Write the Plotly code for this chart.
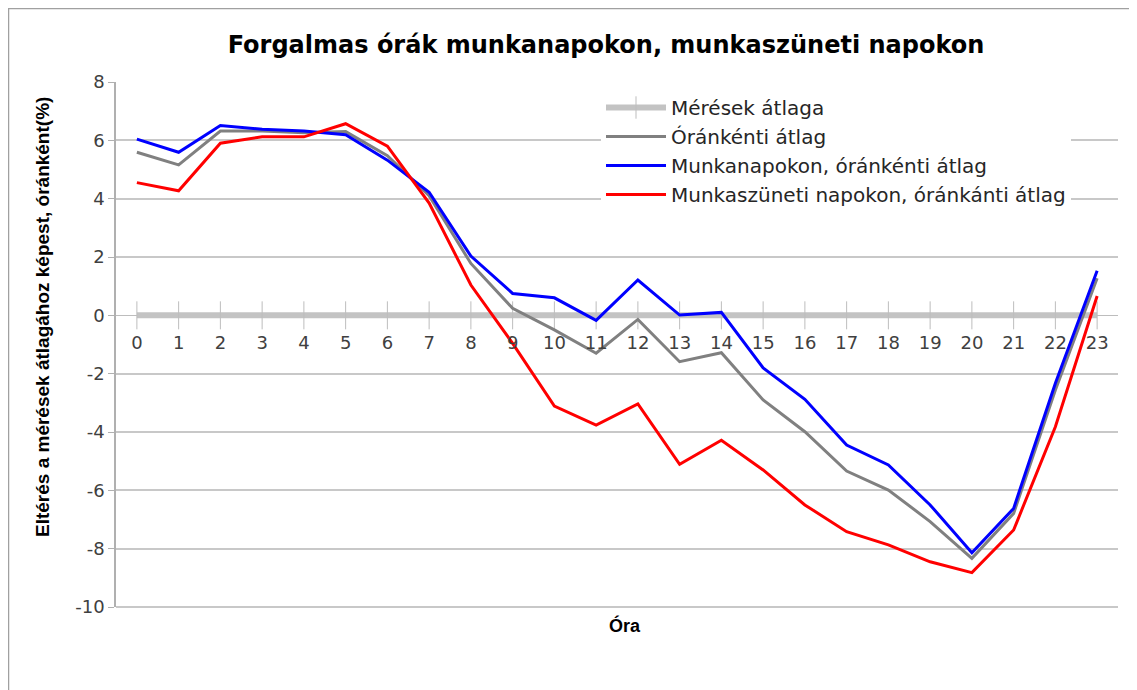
import plotly.graph_objects as go

hours = [str(h) for h in range(24)]
meresek_atlaga = [0] * 24
oranketi_atlag = [5.59, 5.16, 6.32, 6.32, 6.26, 6.30, 5.47, 4.10, 1.78, 0.24, -0.50, -1.30,
                  -0.14, -1.59, -1.28, -2.90, -3.99, -5.34, -5.99, -7.07, -8.33, -6.79, -2.56, 1.27]
munkanap = [6.04, 5.59, 6.51, 6.38, 6.32, 6.19, 5.32, 4.22, 2.03, 0.75, 0.60, -0.17,
            1.21, 0.01, 0.10, -1.80, -2.88, -4.45, -5.13, -6.50, -8.14, -6.62, -2.33, 1.53]
munkaszunet = [4.55, 4.27, 5.90, 6.12, 6.12, 6.57, 5.80, 3.85, 1.04, -0.96, -3.11, -3.76,
               -3.04, -5.11, -4.28, -5.30, -6.50, -7.42, -7.87, -8.45, -8.82, -7.36, -3.82, 0.66]
y_ticks = list(range(-10, 9, 2))
y_tick_labels = [str(v) for v in y_ticks]

OFF = 8  # page body margin
W, H = 1137 - OFF, 690 - OFF
L, R, T, B = 116 - OFF, 19, 82 - OFF, 83
pw, ph = W - L - R, H - T - B

def px_x(p):
    return (p - OFF - L) / pw

def px_y(p):
    return (H - B - (p - OFF)) / ph

fig = go.Figure()
fig.add_trace(go.Scatter(
    x=hours, y=meresek_atlaga, name="Mérések átlaga", mode="lines+markers",
    line=dict(color="#c3c3c3", width=6),
    marker=dict(symbol="line-ns", size=20, color="#c3c3c3", line=dict(color="#bdbdbd", width=1)),
))
fig.add_trace(go.Scatter(x=hours, y=oranketi_atlag, name="Óránkénti átlag", mode="lines",
                         line=dict(color="#808080", width=3)))
fig.add_trace(go.Scatter(x=hours, y=munkanap, name="Munkanapokon, óránkénti átlag", mode="lines",
                         line=dict(color="#0000ff", width=3)))
fig.add_trace(go.Scatter(x=hours, y=munkaszunet, name="Munkaszüneti napokon, óránkánti átlag", mode="lines",
                         line=dict(color="#ff0000", width=3)))

fig.update_layout(
    width=W, height=H,
    margin=dict(l=L, r=R, t=T, b=B, autoexpand=False),
    paper_bgcolor="white", plot_bgcolor="white",
    title=dict(text="<b>Forgalmas órák munkanapokon, munkaszüneti napokon</b>",
               x=(606 - OFF) / W, xanchor="center", y=1 - (45 - OFF) / H, yanchor="middle",
               font=dict(family="DejaVu Sans", size=24, color="#000000")),
    font=dict(family="DejaVu Sans", color="#404040"),
    showlegend=True,
    legend=dict(x=px_x(601), y=px_y(88), xanchor="left", yanchor="top",
                bgcolor="white", borderwidth=0,
                font=dict(family="DejaVu Sans", size=20, color="#262626"),
                tracegroupgap=0, itemwidth=60),
    xaxis=dict(type="category", range=[-0.5, 23.5], showgrid=False, showline=False,
               anchor="free", position=(0 - (-10)) / 18,
               ticks="outside", ticklen=11, tickcolor="rgba(0,0,0,0)",
               tickfont=dict(family="DejaVu Sans", size=18, color="#404040"),
               zeroline=False, fixedrange=True),
    yaxis=dict(range=[-10, 8], tickvals=y_ticks, ticktext=y_tick_labels,
               showgrid=True, gridcolor="#c8c8c8", gridwidth=2,
               showline=True, linecolor="#b0b0b0", linewidth=1.5,
               ticks="outside", ticklen=6, tickcolor="#b0b0b0",
               tickfont=dict(family="DejaVu Sans", size=18, color="#404040"),
               zeroline=True, zerolinecolor="#bdbdbd", zerolinewidth=1),
    annotations=[
        dict(text="<b>Eltérés a mérések átlagához képest, óránként(%)</b>", textangle=-90,
             xref="paper", yref="paper", x=px_x(42), y=px_y(317), xanchor="center", yanchor="middle",
             showarrow=False, font=dict(family="Liberation Sans", size=19, color="#000000")),
        dict(text="<b>Óra</b>", xref="paper", yref="paper", x=px_x(625), y=px_y(625),
             xanchor="center", yanchor="middle", showarrow=False,
             font=dict(family="Liberation Sans", size=18, color="#000000")),
    ],
    shapes=[
        dict(type="rect", xref="paper", yref="paper",
             x0=px_x(8.5), x1=px_x(1145), y0=px_y(700), y1=px_y(8.5),
             line=dict(color="#a0a0a0", width=1.5), fillcolor="rgba(0,0,0,0)", layer="below"),
        dict(type="line", xref="paper", yref="paper", x0=0, x1=1, y0=0, y1=0,
             line=dict(color="#c8c8c8", width=2), layer="above"),
    ],
)

fig.write_html("out.html")
